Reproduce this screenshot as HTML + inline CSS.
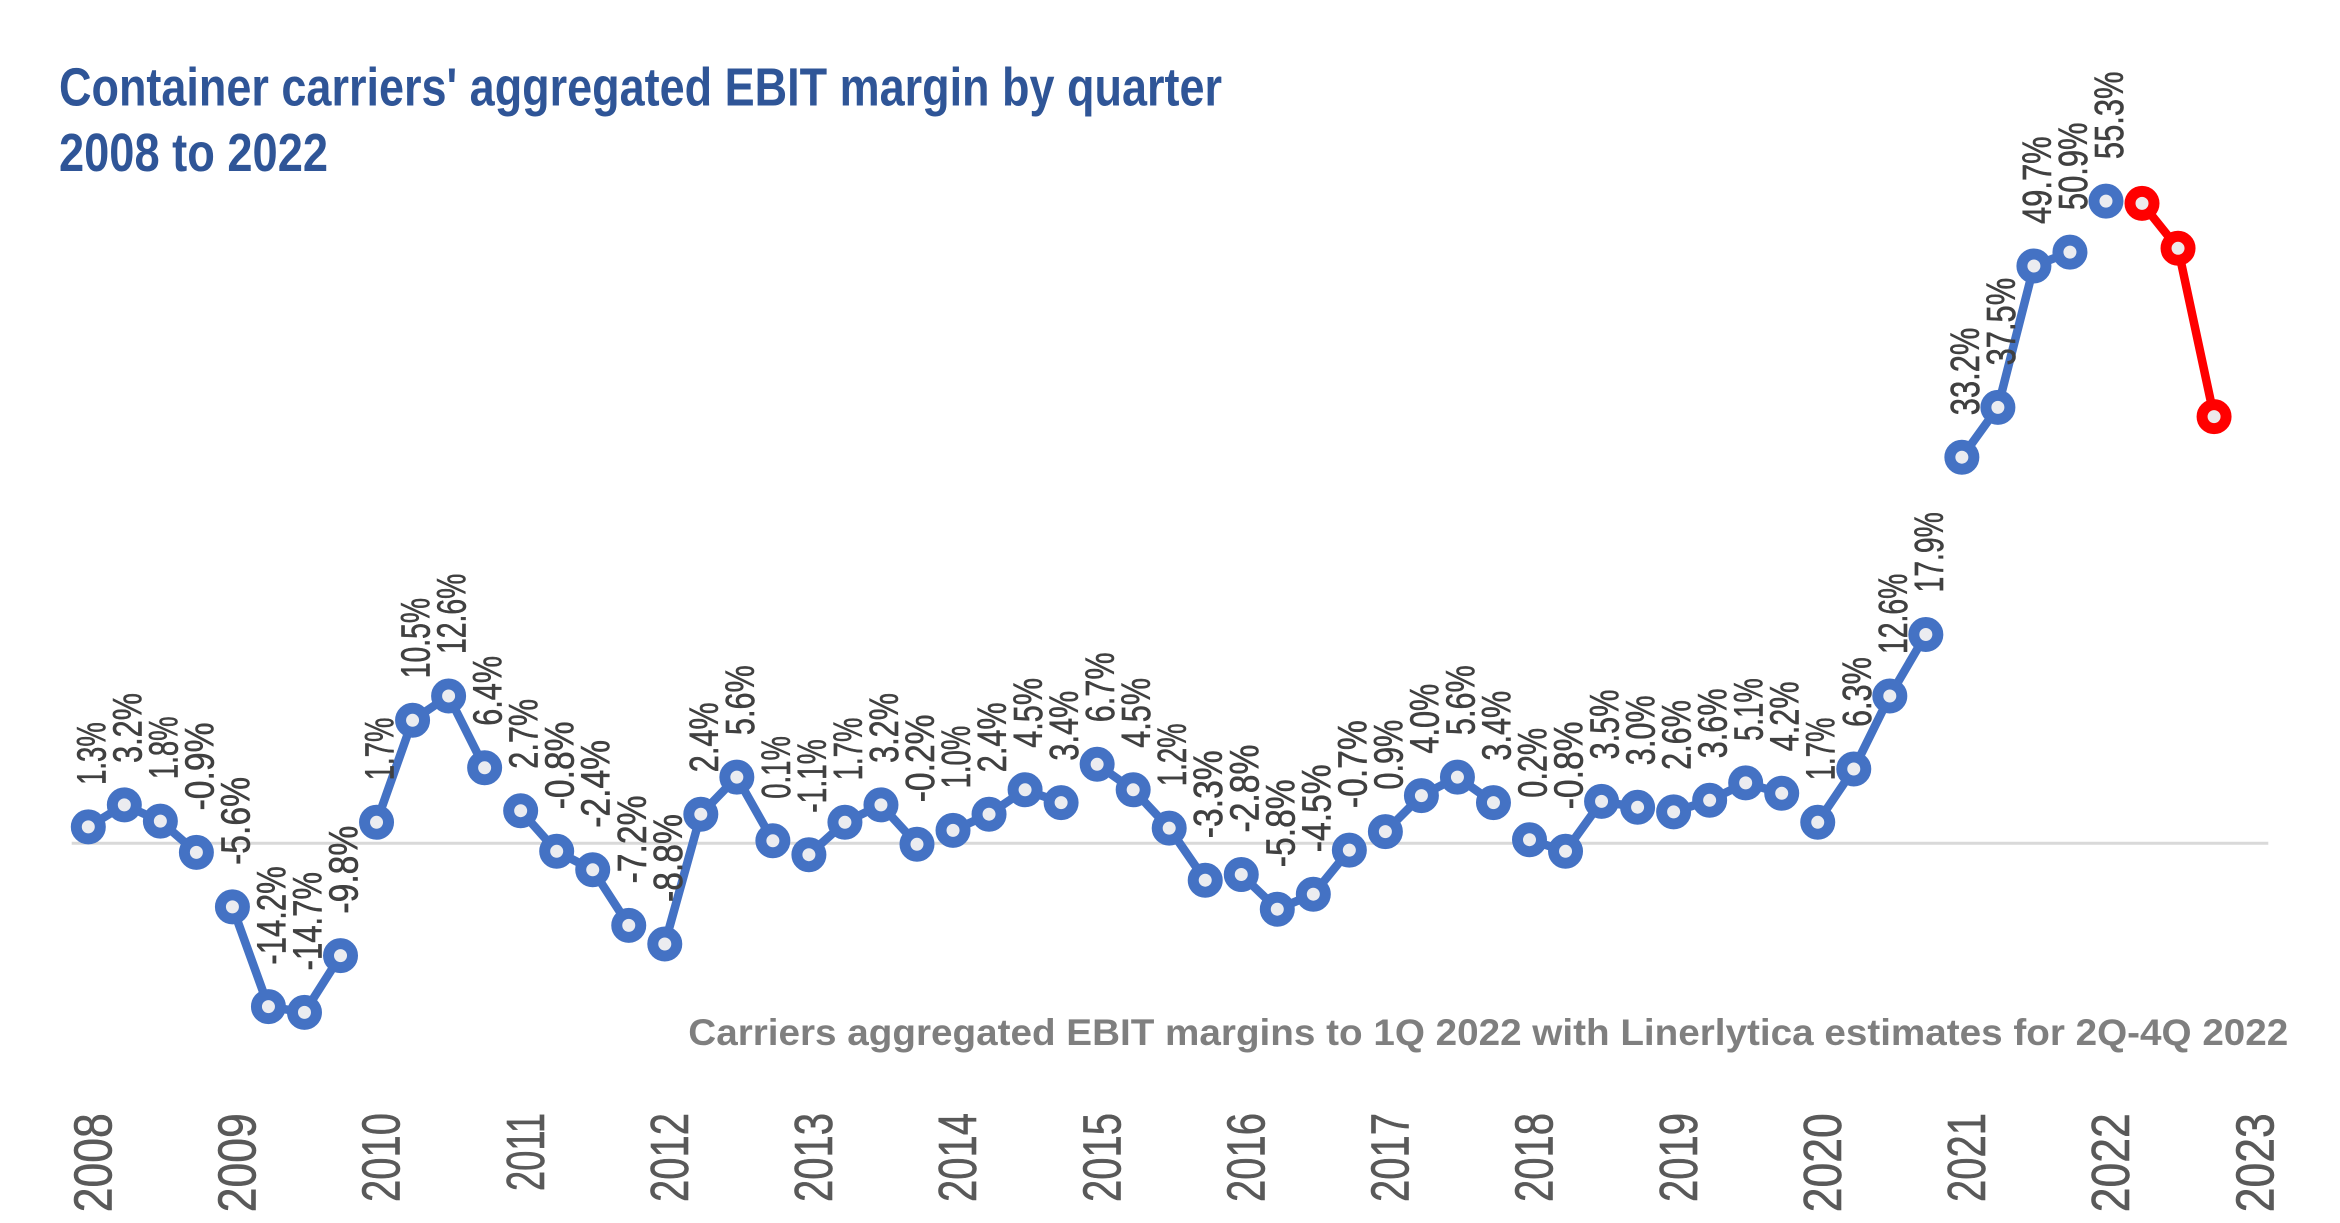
<!DOCTYPE html>
<html>
<head>
<meta charset="utf-8">
<style>
html,body{margin:0;padding:0;background:#fff;}
svg{display:block;}
text{font-family:"Liberation Sans",sans-serif;}
.lb{font-size:41px;fill:#404040;stroke:#404040;stroke-width:0.6;}
.yr{font-size:54px;fill:#595959;stroke:#595959;stroke-width:0.6;}
</style>
</head>
<body>
<svg width="2340" height="1223" viewBox="0 0 2340 1223" xmlns="http://www.w3.org/2000/svg">
<rect x="0" y="0" width="2340" height="1223" fill="#ffffff"/>
<!-- title -->
<text x="59" y="105.7" font-size="54" font-weight="bold" fill="#2f5597" textLength="1163" lengthAdjust="spacingAndGlyphs">Container carriers' aggregated EBIT margin by quarter</text>
<text x="59" y="171" font-size="54" font-weight="bold" fill="#2f5597" textLength="269" lengthAdjust="spacingAndGlyphs">2008 to 2022</text>

<!-- zero line -->
<line x1="71.7" y1="843.3" x2="2268.3" y2="843.3" stroke="#d9d9d9" stroke-width="3"/>

<!-- series lines -->
<g fill="none" stroke="#4472c4" stroke-width="8.5" stroke-linejoin="round" stroke-linecap="round">
<polyline points="88.3,826.9 124.33,804.9 160.36,821.1 196.39,852.4"/>
<polyline points="232.42,906.9 268.45,1006.6 304.48,1012.4 340.51,955.6"/>
<polyline points="376.54,822.3 412.57,720.3 448.6,696.0 484.63,767.8"/>
<polyline points="520.66,810.7 556.69,851.3 592.72,869.8 628.75,925.4"/>
<polyline points="664.78,944.0 700.81,814.2 736.84,777.1 772.87,840.8"/>
<polyline points="808.9,854.7 844.93,822.3 880.96,804.9 916.99,844.3"/>
<polyline points="953.02,830.4 989.05,814.2 1025.08,789.8 1061.11,802.6"/>
<polyline points="1097.14,764.3 1133.17,789.8 1169.2,828.1 1205.23,880.2"/>
<polyline points="1241.26,874.5 1277.29,909.2 1313.32,894.2 1349.35,850.1"/>
<polyline points="1385.38,831.6 1421.41,795.6 1457.44,777.1 1493.47,802.6"/>
<polyline points="1529.5,839.7 1565.53,851.3 1601.56,801.4 1637.59,807.2"/>
<polyline points="1673.62,811.9 1709.65,800.3 1745.68,782.9 1781.71,793.3"/>
<polyline points="1817.74,822.3 1853.77,769.0 1889.8,696.0 1925.83,634.5"/>
<polyline points="1961.86,457.2 1997.89,407.4 2033.92,266.0 2069.95,252.1"/>
</g>
<polyline points="2142.01,203.4 2178.04,248.3 2214.07,416.6" fill="none" stroke="#ff0000" stroke-width="8.5" stroke-linejoin="round" stroke-linecap="round"/>

<!-- markers -->
<g fill="#ebecf0" stroke="#4472c4" stroke-width="11">
<circle cx="88.3" cy="826.9" r="12"/><circle cx="124.33" cy="804.9" r="12"/><circle cx="160.36" cy="821.1" r="12"/><circle cx="196.39" cy="852.4" r="12"/>
<circle cx="232.42" cy="906.9" r="12"/><circle cx="268.45" cy="1006.6" r="12"/><circle cx="304.48" cy="1012.4" r="12"/><circle cx="340.51" cy="955.6" r="12"/>
<circle cx="376.54" cy="822.3" r="12"/><circle cx="412.57" cy="720.3" r="12"/><circle cx="448.6" cy="696.0" r="12"/><circle cx="484.63" cy="767.8" r="12"/>
<circle cx="520.66" cy="810.7" r="12"/><circle cx="556.69" cy="851.3" r="12"/><circle cx="592.72" cy="869.8" r="12"/><circle cx="628.75" cy="925.4" r="12"/>
<circle cx="664.78" cy="944.0" r="12"/><circle cx="700.81" cy="814.2" r="12"/><circle cx="736.84" cy="777.1" r="12"/><circle cx="772.87" cy="840.8" r="12"/>
<circle cx="808.9" cy="854.7" r="12"/><circle cx="844.93" cy="822.3" r="12"/><circle cx="880.96" cy="804.9" r="12"/><circle cx="916.99" cy="844.3" r="12"/>
<circle cx="953.02" cy="830.4" r="12"/><circle cx="989.05" cy="814.2" r="12"/><circle cx="1025.08" cy="789.8" r="12"/><circle cx="1061.11" cy="802.6" r="12"/>
<circle cx="1097.14" cy="764.3" r="12"/><circle cx="1133.17" cy="789.8" r="12"/><circle cx="1169.2" cy="828.1" r="12"/><circle cx="1205.23" cy="880.2" r="12"/>
<circle cx="1241.26" cy="874.5" r="12"/><circle cx="1277.29" cy="909.2" r="12"/><circle cx="1313.32" cy="894.2" r="12"/><circle cx="1349.35" cy="850.1" r="12"/>
<circle cx="1385.38" cy="831.6" r="12"/><circle cx="1421.41" cy="795.6" r="12"/><circle cx="1457.44" cy="777.1" r="12"/><circle cx="1493.47" cy="802.6" r="12"/>
<circle cx="1529.5" cy="839.7" r="12"/><circle cx="1565.53" cy="851.3" r="12"/><circle cx="1601.56" cy="801.4" r="12"/><circle cx="1637.59" cy="807.2" r="12"/>
<circle cx="1673.62" cy="811.9" r="12"/><circle cx="1709.65" cy="800.3" r="12"/><circle cx="1745.68" cy="782.9" r="12"/><circle cx="1781.71" cy="793.3" r="12"/>
<circle cx="1817.74" cy="822.3" r="12"/><circle cx="1853.77" cy="769.0" r="12"/><circle cx="1889.8" cy="696.0" r="12"/><circle cx="1925.83" cy="634.5" r="12"/>
<circle cx="1961.86" cy="457.2" r="12"/><circle cx="1997.89" cy="407.4" r="12"/><circle cx="2033.92" cy="266.0" r="12"/><circle cx="2069.95" cy="252.1" r="12"/>
<circle cx="2105.98" cy="201.1" r="12"/>
</g>
<g fill="#ede9eb" stroke="#ff0000" stroke-width="11">
<circle cx="2142.01" cy="203.4" r="12"/><circle cx="2178.04" cy="248.3" r="12"/><circle cx="2214.07" cy="416.6" r="12"/>
</g>

<!-- data labels -->
<g class="lb">
<text transform="translate(105.3,784.9) rotate(-90)" textLength="62.7" lengthAdjust="spacingAndGlyphs">1.3%</text>
<text transform="translate(141.33,762.9) rotate(-90)" textLength="69.9" lengthAdjust="spacingAndGlyphs">3.2%</text>
<text transform="translate(177.36,779.1) rotate(-90)" textLength="62.7" lengthAdjust="spacingAndGlyphs">1.8%</text>
<text transform="translate(213.39,810.4) rotate(-90)" textLength="87.9" lengthAdjust="spacingAndGlyphs">-0.9%</text>
<text transform="translate(249.42,864.9) rotate(-90)" textLength="87.9" lengthAdjust="spacingAndGlyphs">-5.6%</text>
<text transform="translate(285.45,964.6) rotate(-90)" textLength="98.4" lengthAdjust="spacingAndGlyphs">-14.2%</text>
<text transform="translate(321.48,970.4) rotate(-90)" textLength="98.4" lengthAdjust="spacingAndGlyphs">-14.7%</text>
<text transform="translate(357.51,913.6) rotate(-90)" textLength="87.9" lengthAdjust="spacingAndGlyphs">-9.8%</text>
<text transform="translate(393.54,780.3) rotate(-90)" textLength="62.7" lengthAdjust="spacingAndGlyphs">1.7%</text>
<text transform="translate(429.57,678.3) rotate(-90)" textLength="80.4" lengthAdjust="spacingAndGlyphs">10.5%</text>
<text transform="translate(465.6,654.0) rotate(-90)" textLength="80.4" lengthAdjust="spacingAndGlyphs">12.6%</text>
<text transform="translate(501.63,725.8) rotate(-90)" textLength="69.9" lengthAdjust="spacingAndGlyphs">6.4%</text>
<text transform="translate(537.66,768.7) rotate(-90)" textLength="69.9" lengthAdjust="spacingAndGlyphs">2.7%</text>
<text transform="translate(573.69,809.3) rotate(-90)" textLength="87.9" lengthAdjust="spacingAndGlyphs">-0.8%</text>
<text transform="translate(609.72,827.8) rotate(-90)" textLength="87.9" lengthAdjust="spacingAndGlyphs">-2.4%</text>
<text transform="translate(645.75,883.4) rotate(-90)" textLength="87.9" lengthAdjust="spacingAndGlyphs">-7.2%</text>
<text transform="translate(681.78,902.0) rotate(-90)" textLength="87.9" lengthAdjust="spacingAndGlyphs">-8.8%</text>
<text transform="translate(717.81,772.2) rotate(-90)" textLength="69.9" lengthAdjust="spacingAndGlyphs">2.4%</text>
<text transform="translate(753.84,735.1) rotate(-90)" textLength="69.9" lengthAdjust="spacingAndGlyphs">5.6%</text>
<text transform="translate(789.87,798.8) rotate(-90)" textLength="62.7" lengthAdjust="spacingAndGlyphs">0.1%</text>
<text transform="translate(825.9,812.7) rotate(-90)" textLength="73.5" lengthAdjust="spacingAndGlyphs">-1.1%</text>
<text transform="translate(861.93,780.3) rotate(-90)" textLength="62.7" lengthAdjust="spacingAndGlyphs">1.7%</text>
<text transform="translate(897.96,762.9) rotate(-90)" textLength="69.9" lengthAdjust="spacingAndGlyphs">3.2%</text>
<text transform="translate(933.99,802.3) rotate(-90)" textLength="87.9" lengthAdjust="spacingAndGlyphs">-0.2%</text>
<text transform="translate(970.02,788.4) rotate(-90)" textLength="62.7" lengthAdjust="spacingAndGlyphs">1.0%</text>
<text transform="translate(1006.05,772.2) rotate(-90)" textLength="69.9" lengthAdjust="spacingAndGlyphs">2.4%</text>
<text transform="translate(1042.08,747.8) rotate(-90)" textLength="69.9" lengthAdjust="spacingAndGlyphs">4.5%</text>
<text transform="translate(1078.11,760.6) rotate(-90)" textLength="69.9" lengthAdjust="spacingAndGlyphs">3.4%</text>
<text transform="translate(1114.14,722.3) rotate(-90)" textLength="69.9" lengthAdjust="spacingAndGlyphs">6.7%</text>
<text transform="translate(1150.17,747.8) rotate(-90)" textLength="69.9" lengthAdjust="spacingAndGlyphs">4.5%</text>
<text transform="translate(1186.2,786.1) rotate(-90)" textLength="62.7" lengthAdjust="spacingAndGlyphs">1.2%</text>
<text transform="translate(1222.23,838.2) rotate(-90)" textLength="87.9" lengthAdjust="spacingAndGlyphs">-3.3%</text>
<text transform="translate(1258.26,832.5) rotate(-90)" textLength="87.9" lengthAdjust="spacingAndGlyphs">-2.8%</text>
<text transform="translate(1294.29,867.2) rotate(-90)" textLength="87.9" lengthAdjust="spacingAndGlyphs">-5.8%</text>
<text transform="translate(1330.32,852.2) rotate(-90)" textLength="87.9" lengthAdjust="spacingAndGlyphs">-4.5%</text>
<text transform="translate(1366.35,808.1) rotate(-90)" textLength="87.9" lengthAdjust="spacingAndGlyphs">-0.7%</text>
<text transform="translate(1402.38,789.6) rotate(-90)" textLength="69.9" lengthAdjust="spacingAndGlyphs">0.9%</text>
<text transform="translate(1438.41,753.6) rotate(-90)" textLength="69.9" lengthAdjust="spacingAndGlyphs">4.0%</text>
<text transform="translate(1474.44,735.1) rotate(-90)" textLength="69.9" lengthAdjust="spacingAndGlyphs">5.6%</text>
<text transform="translate(1510.47,760.6) rotate(-90)" textLength="69.9" lengthAdjust="spacingAndGlyphs">3.4%</text>
<text transform="translate(1546.5,797.7) rotate(-90)" textLength="69.9" lengthAdjust="spacingAndGlyphs">0.2%</text>
<text transform="translate(1582.53,809.3) rotate(-90)" textLength="87.9" lengthAdjust="spacingAndGlyphs">-0.8%</text>
<text transform="translate(1618.56,759.4) rotate(-90)" textLength="69.9" lengthAdjust="spacingAndGlyphs">3.5%</text>
<text transform="translate(1654.59,765.2) rotate(-90)" textLength="69.9" lengthAdjust="spacingAndGlyphs">3.0%</text>
<text transform="translate(1690.62,769.9) rotate(-90)" textLength="69.9" lengthAdjust="spacingAndGlyphs">2.6%</text>
<text transform="translate(1726.65,758.3) rotate(-90)" textLength="69.9" lengthAdjust="spacingAndGlyphs">3.6%</text>
<text transform="translate(1762.68,740.9) rotate(-90)" textLength="62.7" lengthAdjust="spacingAndGlyphs">5.1%</text>
<text transform="translate(1798.71,751.3) rotate(-90)" textLength="69.9" lengthAdjust="spacingAndGlyphs">4.2%</text>
<text transform="translate(1834.74,780.3) rotate(-90)" textLength="62.7" lengthAdjust="spacingAndGlyphs">1.7%</text>
<text transform="translate(1870.77,727.0) rotate(-90)" textLength="69.9" lengthAdjust="spacingAndGlyphs">6.3%</text>
<text transform="translate(1906.8,654.0) rotate(-90)" textLength="80.4" lengthAdjust="spacingAndGlyphs">12.6%</text>
<text transform="translate(1942.83,592.5) rotate(-90)" textLength="80.4" lengthAdjust="spacingAndGlyphs">17.9%</text>
<text transform="translate(1978.86,415.2) rotate(-90)" textLength="87.6" lengthAdjust="spacingAndGlyphs">33.2%</text>
<text transform="translate(2014.89,365.4) rotate(-90)" textLength="87.6" lengthAdjust="spacingAndGlyphs">37.5%</text>
<text transform="translate(2050.92,224.0) rotate(-90)" textLength="87.6" lengthAdjust="spacingAndGlyphs">49.7%</text>
<text transform="translate(2086.95,210.1) rotate(-90)" textLength="87.6" lengthAdjust="spacingAndGlyphs">50.9%</text>
<text transform="translate(2122.98,159.1) rotate(-90)" textLength="87.6" lengthAdjust="spacingAndGlyphs">55.3%</text>
</g>

<!-- annotation -->
<text x="688.3" y="1045" font-size="37" font-weight="bold" fill="#7f7f7f" textLength="1600" lengthAdjust="spacingAndGlyphs">Carriers aggregated EBIT margins to 1Q 2022 with Linerlytica estimates for 2Q-4Q 2022</text>

<!-- year axis labels -->
<g class="yr">
<text transform="translate(111.5,1212.3) rotate(-90)" textLength="99" lengthAdjust="spacingAndGlyphs">2008</text>
<text transform="translate(255.6,1212.3) rotate(-90)" textLength="99" lengthAdjust="spacingAndGlyphs">2009</text>
<text transform="translate(399.7,1202) rotate(-90)" textLength="89" lengthAdjust="spacingAndGlyphs">2010</text>
<text transform="translate(543.9,1191) rotate(-90)" textLength="78" lengthAdjust="spacingAndGlyphs">2011</text>
<text transform="translate(688.0,1202) rotate(-90)" textLength="89" lengthAdjust="spacingAndGlyphs">2012</text>
<text transform="translate(832.1,1202) rotate(-90)" textLength="89" lengthAdjust="spacingAndGlyphs">2013</text>
<text transform="translate(976.2,1202) rotate(-90)" textLength="89" lengthAdjust="spacingAndGlyphs">2014</text>
<text transform="translate(1120.3,1202) rotate(-90)" textLength="89" lengthAdjust="spacingAndGlyphs">2015</text>
<text transform="translate(1264.5,1202) rotate(-90)" textLength="89" lengthAdjust="spacingAndGlyphs">2016</text>
<text transform="translate(1408.6,1202) rotate(-90)" textLength="89" lengthAdjust="spacingAndGlyphs">2017</text>
<text transform="translate(1552.7,1202) rotate(-90)" textLength="89" lengthAdjust="spacingAndGlyphs">2018</text>
<text transform="translate(1696.8,1202) rotate(-90)" textLength="89" lengthAdjust="spacingAndGlyphs">2019</text>
<text transform="translate(1840.9,1212.3) rotate(-90)" textLength="99" lengthAdjust="spacingAndGlyphs">2020</text>
<text transform="translate(1985.0,1202) rotate(-90)" textLength="89" lengthAdjust="spacingAndGlyphs">2021</text>
<text transform="translate(2129.2,1212.3) rotate(-90)" textLength="99" lengthAdjust="spacingAndGlyphs">2022</text>
<text transform="translate(2273.3,1212.3) rotate(-90)" textLength="99" lengthAdjust="spacingAndGlyphs">2023</text>
</g>
</svg>
</body>
</html>
